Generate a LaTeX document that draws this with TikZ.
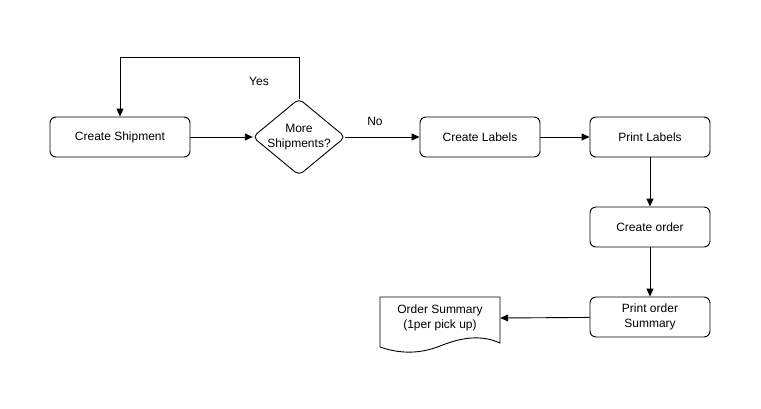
\documentclass[tikz,border=0pt]{standalone}
\usepackage{fontspec}
\setmainfont{Liberation Sans}
\usetikzlibrary{arrows.meta}
\begin{document}
\begin{tikzpicture}[x=1pt,y=-1pt,
  every node/.style={font=\fontsize{12}{15}\selectfont},
  proc/.style={draw,rounded corners=6pt,minimum width=140pt,minimum height=40pt,inner sep=0pt,line width=0.9pt},
  proc2/.style={proc,minimum width=120pt,align=center},
  decbox/.style={minimum width=92pt,minimum height=76pt,inner sep=0pt,align=center},
  conn/.style={line width=0.9pt,-{Triangle[length=8pt,width=7pt]}}]
\useasboundingbox (0,0) rectangle (761,408);
\node[proc] (cs) at (120,137) {Create Shipment};
\node[decbox] (ms) at (299,137) {More\\Shipments?};
\draw[line width=0.9pt,rounded corners=5pt] (ms.north) -- (ms.east) -- (ms.south) -- (ms.west) -- cycle;
\node[proc2] (cl) at (480,137) {Create Labels};
\node[proc2] (pl) at (650,137) {Print Labels};
\node[proc2] (co) at (650,227) {Create order};
\node[proc2] (po) at (650,317) {Print order\\Summary};
\node[minimum width=120pt,minimum height=40pt,inner sep=0pt,align=center] (doc) at (440,318) {Order Summary\\(1per pick up)};
\draw[line width=0.9pt] (380,297) -- (500,297) -- (500,343)
  .. controls (480,334) and (460,338) .. (440,346)
  .. controls (420,354) and (400,354) .. (380,347) -- cycle;
\coordinate (up) at (299,57);
\coordinate (ul) at (120,57);
\draw[conn] (cs) -- (ms.west);
\draw[conn] (ms.north) -- (up) -- (ul) -- (cs.north);
\node (yes) at (259,81) {Yes};
\draw[conn] (ms.east) -- (cl);
\node (no) at (375,121) {No};
\draw[conn] (cl) -- (pl);
\draw[conn] (pl) -- (co);
\draw[conn] (co) -- (po);
\draw[conn] (po) -- (doc.east);
\end{tikzpicture}
\end{document}
